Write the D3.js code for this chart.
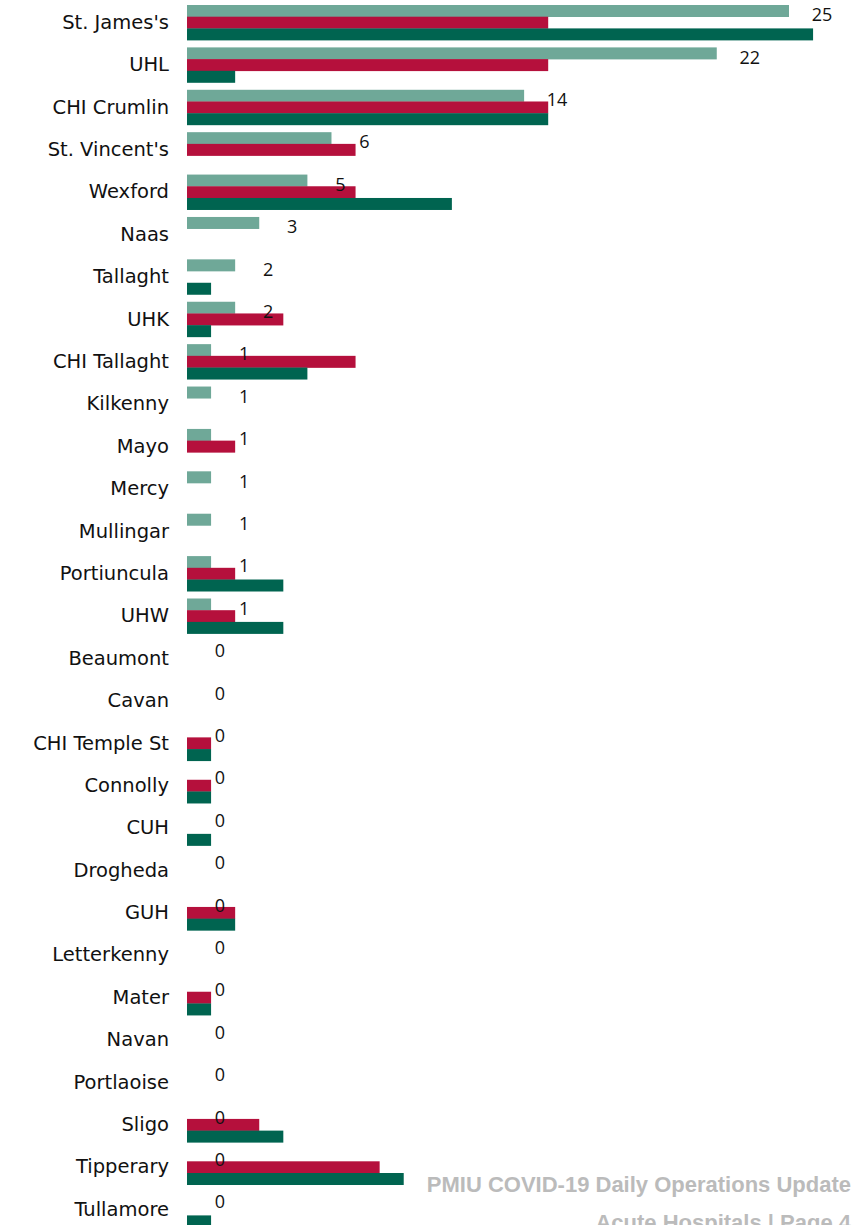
<!DOCTYPE html>
<html><head><meta charset="utf-8">
<script src="https://cdn.jsdelivr.net/npm/d3@7"></script>
<style>body{margin:0;background:#fff}</style>
</head><body>
<svg id="c" width="862" height="1225"></svg>
<script>
const categories = ["St. James's","UHL","CHI Crumlin","St. Vincent's","Wexford","Naas","Tallaght","UHK","CHI Tallaght","Kilkenny","Mayo","Mercy","Mullingar","Portiuncula","UHW","Beaumont","Cavan","CHI Temple St","Connolly","CUH","Drogheda","GUH","Letterkenny","Mater","Navan","Portlaoise","Sligo","Tipperary","Tullamore"];
const seriesA = [25,22,14,6,5,3,2,2,1,1,1,1,1,1,1,0,0,0,0,0,0,0,0,0,0,0,0,0,0];
const seriesB = [15,15,15,7,7,0,0,4,7,0,2,0,0,2,2,0,0,1,1,0,0,2,0,1,0,0,3,8,0];
const seriesC = [26,2,15,0,11,0,1,1,5,0,0,0,0,4,4,0,0,1,1,1,0,2,0,1,0,0,4,9,1];
const colors = ["#6fa898","#b5103c","#006450"];

const svg = d3.select("#c");
const x = d3.scaleLinear().domain([0,25]).range([187,789]);
const y = d3.scalePoint().domain(categories).range([22,1209]);
const bh = 11.7;
[seriesA,seriesB,seriesC].forEach((s,i)=>{
  svg.append("g").selectAll("rect").data(s).join("rect")
    .attr("x",x(0)).attr("y",(d,j)=>y(categories[j])-17+i*bh)
    .attr("width",d=>x(d)-x(0)).attr("height",bh+0.3).attr("fill",colors[i]);
});
svg.append("g").selectAll("text").data(categories).join("text")
  .attr("x",169).attr("y",d=>y(d)).attr("dy","0.35em").attr("text-anchor","end")
  .attr("font-family","DejaVu Sans, sans-serif").attr("font-size",19.5).attr("fill","#111").text(d=>d);
svg.append("g").selectAll("text").data(seriesA).join("text")
  .attr("x",d=>x(d)+33).attr("y",(d,j)=>y(categories[j])-7).attr("dy","0.35em").attr("text-anchor","middle")
  .attr("font-family","Open Sans, sans-serif").attr("font-size",18).attr("fill","#111").text(d=>d);
const foot = svg.append("g").attr("font-family","Liberation Sans, Arial, sans-serif").attr("font-weight","bold").attr("fill","#bbbbbb").attr("font-size",22).attr("text-anchor","end");
foot.append("text").attr("x",851).attr("y",1192).text("PMIU COVID-19 Daily Operations Update");
foot.append("text").attr("x",851).attr("y",1230).text("Acute Hospitals |  Page 4");
</script>
</body></html>
